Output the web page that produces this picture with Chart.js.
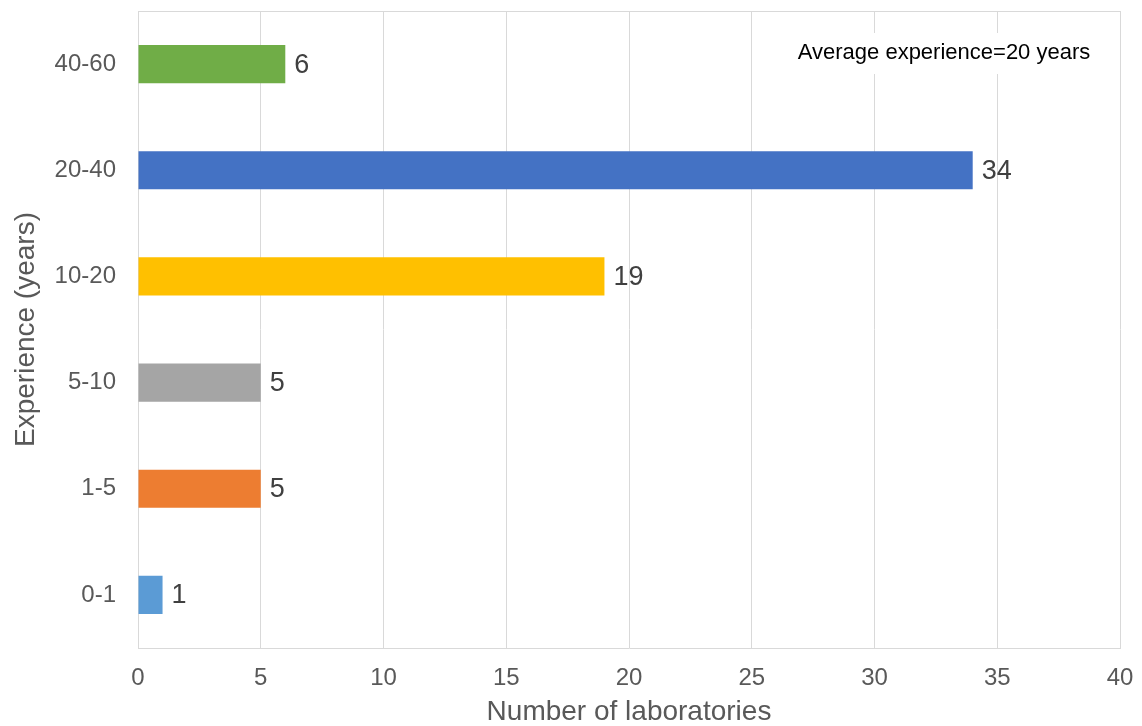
<!DOCTYPE html>
<html>
<head>
<meta charset="utf-8">
<script src="https://cdn.jsdelivr.net/npm/chart.js@4/dist/chart.umd.min.js"></script>
<style>
  html, body { margin: 0; padding: 0; background: #fff; }
  #wrap { width: 1142px; height: 726px; }
</style>
</head>
<body>
<div id="wrap"><canvas id="expChart" width="1142" height="726"></canvas></div>
<script>
// experience groups, bottom to top
const groups = ['0-1', '1-5', '5-10', '10-20', '20-40', '40-60'];
const labCounts = [1, 5, 5, 19, 34, 6];
const barColors = ['#5B9BD5', '#ED7D31', '#A5A5A5', '#FFC000', '#4472C4', '#70AD47'];
const xTicks = [0, 5, 10, 15, 20, 25, 30, 35, 40];
const noteText = 'Average experience=20 years';

const FONT = "'Liberation Sans', Arial, sans-serif";

// value next to each bar end
const valueLabels = {
  id: 'valueLabels',
  afterDatasetsDraw(chart) {
    const ctx = chart.ctx;
    const meta = chart.getDatasetMeta(0);
    ctx.save();
    ctx.font = '27px ' + FONT;
    ctx.fillStyle = '#404040';
    ctx.textAlign = 'left';
    ctx.textBaseline = 'middle';
    meta.data.forEach((bar, i) => {
      ctx.fillText(String(labCounts[i]), bar.x + 9, bar.y + 1);
    });
    ctx.restore();
  }
};

// plot frame + text box in the top right corner
const frameAndNote = {
  id: 'frameAndNote',
  afterDraw(chart) {
    const ctx = chart.ctx;
    const a = chart.chartArea;
    ctx.save();
    ctx.strokeStyle = '#d9d9d9';
    ctx.lineWidth = 1;
    ctx.beginPath();
    ctx.moveTo(a.left, a.top + 0.5);
    ctx.lineTo(a.right, a.top + 0.5);
    ctx.stroke();

    ctx.fillStyle = '#ffffff';
    ctx.fillRect(785, 33, 320, 41);
    ctx.font = '22px ' + FONT;
    ctx.fillStyle = '#000000';
    ctx.textAlign = 'center';
    ctx.textBaseline = 'middle';
    ctx.fillText(noteText, 944, 53);
    ctx.restore();
  }
};

new Chart(document.getElementById('expChart'), {
  type: 'bar',
  data: {
    labels: groups,
    datasets: [{
      data: labCounts,
      backgroundColor: barColors,
      barPercentage: 0.6,
      categoryPercentage: 0.6
    }]
  },
  options: {
    indexAxis: 'y',
    responsive: false,
    animation: false,
    layout: { padding: { top: 11, right: 22, left: 0, bottom: 0 } },
    plugins: {
      legend: { display: false },
      tooltip: { enabled: false }
    },
    scales: {
      x: {
        min: 0,
        max: 40,
        afterBuildTicks(scale) {
          scale.ticks = xTicks.map(v => ({ value: v }));
        },
        afterFit(scale) {
          scale.height = 78;
          scale.paddingLeft = 0;
          scale.paddingRight = 0;
        },
        grid: { color: '#d9d9d9', drawTicks: false },
        border: { color: '#d9d9d9' },
        ticks: {
          padding: 16,
          color: '#595959',
          font: { family: FONT, size: 24 }
        },
        title: {
          display: true,
          text: 'Number of laboratories',
          color: '#595959',
          padding: { top: 4, bottom: -3 },
          font: { family: FONT, size: 28 }
        }
      },
      y: {
        reverse: true,
        afterFit(scale) {
          scale.width = 138;
          scale.paddingTop = 0;
          scale.paddingBottom = 0;
        },
        grid: { display: false, drawTicks: false },
        border: { color: '#d9d9d9' },
        ticks: {
          padding: 22,
          color: '#595959',
          font: { family: FONT, size: 24 }
        },
        title: {
          display: true,
          text: 'Experience (years)',
          color: '#595959',
          padding: { top: 9, bottom: 8 },
          font: { family: FONT, size: 28 }
        }
      }
    }
  },
  plugins: [valueLabels, frameAndNote]
});
</script>
</body>
</html>
